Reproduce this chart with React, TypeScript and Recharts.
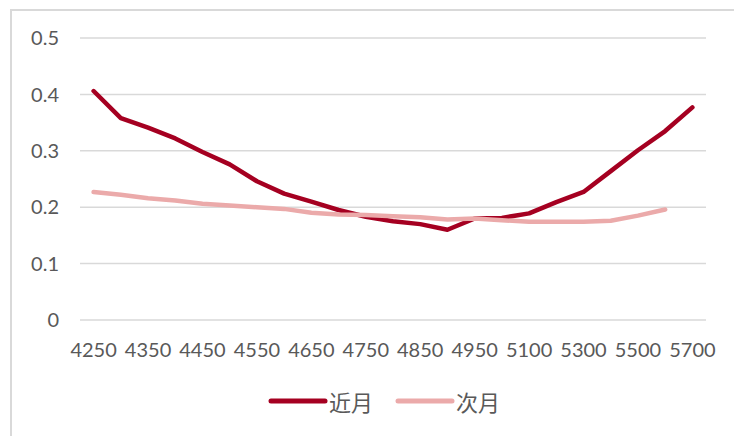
import React from "react";
import { LineChart, Line, XAxis, YAxis, CartesianGrid, Legend } from "recharts";

const strikes = [
  "4250", "4300", "4350", "4400", "4450", "4500", "4550", "4600", "4650", "4700",
  "4750", "4800", "4850", "4900", "4950", "5000", "5100", "5200", "5300", "5400",
  "5500", "5600", "5700",
];
const nearMonth = [
  0.406, 0.358, 0.341, 0.322, 0.298, 0.276, 0.246, 0.224, 0.21, 0.195,
  0.183, 0.175, 0.17, 0.16, 0.18, 0.181, 0.189, 0.209, 0.227, 0.264,
  0.301, 0.335, 0.377,
];
const nextMonth: (number | null)[] = [
  0.227, 0.222, 0.216, 0.212, 0.206, 0.203, 0.2, 0.197, 0.19, 0.187,
  0.186, 0.184, 0.182, 0.178, 0.18, 0.177, 0.174, 0.174, 0.174, 0.176,
  0.185, 0.196, null,
];
const yTicks = [0, 0.1, 0.2, 0.3, 0.4, 0.5];
const seriesNames = ["近月", "次月"];
const seriesColors = ["#A50021", "#EBAAAA"];

const data = strikes.map((s, i) => ({
  strike: s,
  near: nearMonth[i],
  next: nextMonth[i],
}));

const textColor = "#595959";
const tickFont = { fill: textColor, fontSize: 20, fontFamily: "Lato, 'Noto Sans', sans-serif" };

const LegendContent = () => (
  <div style={{ display: "flex", alignItems: "center", height: 30 }}>
    {seriesNames.map((name, i) => (
      <div key={name} style={{ display: "flex", alignItems: "center", marginRight: i === 0 ? 22 : 0 }}>
        <svg width={60} height={10} style={{ display: "block" }}>
          <line x1={3} y1={5} x2={57} y2={5} stroke={seriesColors[i]} strokeWidth={5} strokeLinecap="round" />
        </svg>
        <span
          style={{
            color: textColor,
            fontSize: 22,
            fontFamily: "'Noto Sans CJK SC', sans-serif",
            lineHeight: "30px",
            marginLeft: 1,
          }}
        >
          {name}
        </span>
      </div>
    ))}
  </div>
);

export default function App() {
  return (
    <div
      style={{
        position: "fixed",
        left: 0,
        top: 0,
        width: 734,
        height: 436,
        background: "#fff",
        overflow: "hidden",
      }}
    >
      <div
        style={{
          position: "absolute",
          left: 10,
          top: 9,
          width: 760,
          height: 460,
          borderTop: "2px solid #d9d9d9",
          borderLeft: "2px solid #d9d9d9",
        }}
      />
      <div style={{ position: "absolute", left: 0, top: 0 }}>
        <LineChart width={734} height={436} data={data} margin={{ top: 38, right: 28, bottom: 76, left: 0 }}>
          <CartesianGrid vertical={false} stroke="#d9d9d9" strokeWidth={1.5} />
          <XAxis
            dataKey="strike"
            scale="band"
            interval={1}
            tickLine={false}
            axisLine={false}
            tickSize={0}
            tickMargin={23}
            height={40}
            tick={tickFont}
          />
          <YAxis
            domain={[0, 0.5]}
            ticks={yTicks}
            tickFormatter={(v: number) => String(v)}
            tickLine={false}
            axisLine={false}
            tickSize={0}
            tickMargin={21}
            width={80}
            tick={tickFont}
          />
          <Legend
            layout="horizontal"
            verticalAlign="middle"
            align="center"
            content={<LegendContent />}
            wrapperStyle={{ top: 386, left: 268, width: 260, height: 30 }}
          />
          <Line
            type="linear"
            dataKey="near"
            name={seriesNames[0]}
            stroke={seriesColors[0]}
            strokeWidth={4.5}
            dot={false}
            strokeLinejoin="round"
            strokeLinecap="round"
            isAnimationActive={false}
          />
          <Line
            type="linear"
            dataKey="next"
            name={seriesNames[1]}
            stroke={seriesColors[1]}
            strokeWidth={4.5}
            dot={false}
            strokeLinejoin="round"
            strokeLinecap="round"
            isAnimationActive={false}
          />
        </LineChart>
      </div>
    </div>
  );
}
